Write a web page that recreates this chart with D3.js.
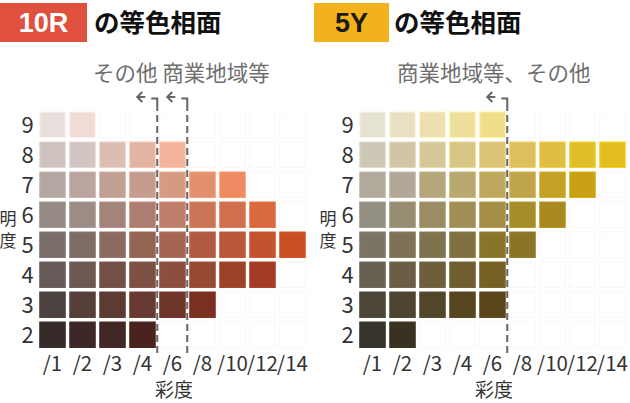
<!DOCTYPE html>
<html>
<head>
<meta charset="utf-8">
<script src="https://cdn.jsdelivr.net/npm/d3@7"></script>
<style>
  body { margin: 0; background: #fff; }
  svg { display: block; font-family: "Noto Sans CJK JP", "Noto Sans", sans-serif; }
</style>
</head>
<body>
<svg id="chart" width="630" height="403"></svg>
<script>
// chroma (彩度) and value (明度) labels
const chromaLabels = ['/1', '/2', '/3', '/4', '/6', '/8', '/10', '/12', '/14'];
const valueLabels = ['9', '8', '7', '6', '5', '4', '3', '2'];

// 10R colors, one row per value (9 -> 2), null = no chip
const colors10R = [
  ['#e8dedb', '#f0dcd5', null, null, null, null, null, null, null],
  ['#cfc3c0', '#d3c5c2', '#dcbdb1', '#e3b4a4', '#f2b59b', null, null, null, null],
  ['#b4a7a2', '#baa49d', '#c0a093', '#c59d8e', '#d69a82', '#e3906f', '#ee8b62', null, null],
  ['#958983', '#9b8c86', '#a4847a', '#ad7e70', '#bf7e69', '#c97556', '#d06f4e', '#d96a3e', null],
  ['#7a6e6b', '#806c67', '#8b6a5f', '#946454', '#a46652', '#b05b41', '#b9573a', '#c1532f', '#c84f21'],
  ['#655a58', '#6d5751', '#744f46', '#7d5044', '#8b4e3f', '#964a33', '#9c4228', '#a33c24', null],
  ['#4c4240', '#563e3a', '#5c3b33', '#663a31', '#6e3329', '#7a2f20', null, null, null],
  ['#372b2a', '#3e2827', '#432725', '#4a231e', null, null, null, null, null]
];

// 5Y colors
const colors5Y = [
  ['#e5e1d3', '#e9dfc2', '#ecdfb0', '#eee09c', '#f0df8a', null, null, null, null],
  ['#cdc8b6', '#d0c6a6', '#d4c799', '#d7c586', '#dac276', '#dcbf5e', '#dfbe43', '#e1bf2a', '#e2bf1e'],
  ['#b1aa9c', '#b1a898', '#b5a67c', '#b9a86f', '#bea85e', '#c0a44a', '#c4a126', '#c7a013', null],
  ['#938f82', '#978d72', '#9b8c63', '#a08e56', '#a48e45', '#a68d2a', '#a88a20', null, null],
  ['#7a7466', '#7d7258', '#7f724f', '#817140', '#88752a', '#8a7426', null, null, null],
  ['#666152', '#6a5f46', '#6d5e3c', '#705d30', '#766024', null, null, null, null],
  ['#4b4638', '#4d452f', '#52462a', '#564520', '#5a451c', null, null, null, null],
  ['#35332b', '#3a3220', null, null, null, null, null, null, null]
];

// the dashed line sits just right of these chroma columns
const splits10R = ['/4', '/6'];
const splits5Y = ['/6'];

const panels = [
  { hue: '10R', badge: '#e0503e', badgeText: '#ffffff', colors: colors10R, splits: splits10R,
    note: 'その他 商業地域等', noteX: 93, left: 0 },
  { hue: '5Y', badge: '#f2b21b', badgeText: '#1a1a1a', colors: colors5Y, splits: splits5Y,
    note: '商業地域等、その他', noteX: 397, left: 320 }
];

const svg = d3.select('#chart');

panels.forEach(p => {
  const g = svg.append('g').attr('transform', `translate(${p.left},0)`);

  // title badge
  const bx = p.left === 0 ? 0 : -6;
  const bw = p.left === 0 ? 87 : 75;
  g.append('rect').attr('x', bx).attr('y', 3).attr('width', bw).attr('height', 39).attr('fill', p.badge);
  g.append('text')
    .attr('x', bx + bw / 2).attr('y', 32)
    .attr('text-anchor', 'middle')
    .attr('font-family', 'Liberation Sans, Arial, sans-serif')
    .attr('font-weight', 'bold').attr('font-size', 27)
    .attr('fill', p.badgeText)
    .text(p.hue);
  g.append('text')
    .attr('x', p.left === 0 ? 94 : 74).attr('y', 32)
    .attr('font-weight', 'bold').attr('font-size', 25.5)
    .attr('fill', '#111')
    .text('の等色相面');

  g.append('text')
    .attr('x', p.noteX - p.left).attr('y', 81)
    .attr('font-size', 21.5).attr('fill', '#6e6e6e')
    .text(p.note);

  const x = d3.scaleBand().domain(chromaLabels).range([37.5, 307.5]).paddingInner(0.15).paddingOuter(0.075);
  const y = d3.scaleBand().domain(valueLabels).range([109.75, 349.75]).paddingInner(0.15).paddingOuter(0.075);

  const cells = [];
  valueLabels.forEach((v, i) => chromaLabels.forEach((c, j) => cells.push({ v, c, color: p.colors[i][j] })));

  g.selectAll('rect.cell')
    .data(cells)
    .join('rect')
      .attr('class', 'cell')
      .attr('x', d => x(d.c))
      .attr('y', d => y(d.v))
      .attr('width', x.bandwidth())
      .attr('height', y.bandwidth())
      .attr('fill', d => d.color || '#fff')
      .attr('stroke', d => d.color ? d3.color(d.color).brighter(0.25) : '#f8f8f8')
      .attr('stroke-width', 1);

  // value ticks
  g.selectAll('text.vt')
    .data(valueLabels)
    .join('text')
      .attr('class', 'vt')
      .attr('x', 27.5)
      .attr('y', d => y(d) + y.bandwidth() / 2 + 8)
      .attr('text-anchor', 'middle')
      .attr('font-size', 22).attr('fill', '#333')
      .text(d => d);

  // chroma ticks
  g.selectAll('text.ct')
    .data(chromaLabels)
    .join('text')
      .attr('class', 'ct')
      .attr('x', d => x(d) + x.bandwidth() / 2)
      .attr('y', 371)
      .attr('text-anchor', 'middle')
      .attr('font-size', 20.5).attr('fill', '#333')
      .text(d => d);

  g.append('text')
    .attr('x', 174).attr('y', 397)
    .attr('text-anchor', 'middle')
    .attr('font-size', 19).attr('fill', '#333')
    .text('彩度');

  ['明', '度'].forEach((ch, k) => {
    g.append('text')
      .attr('x', 8).attr('y', 225 + k * 22)
      .attr('text-anchor', 'middle')
      .attr('font-size', 17).attr('fill', '#333')
      .text(ch);
  });

  // dashed boundaries with hooked arrows
  p.splits.forEach(s => {
    const lx = x(s) + x.bandwidth() + 2;
    g.append('line')
      .attr('x1', lx).attr('x2', lx)
      .attr('y1', 104).attr('y2', 357)
      .attr('stroke', '#666').attr('stroke-width', 2)
      .attr('stroke-dasharray', '7,4');
    g.append('path')
      .attr('d', `M${lx - 15},92 L${lx - 20},97 L${lx - 15},102 M${lx - 20},97 H${lx - 12} M${lx - 6},98.5 H${lx} V104`)
      .attr('fill', 'none')
      .attr('stroke', '#666').attr('stroke-width', 2);
  });
});
</script>
</body>
</html>
